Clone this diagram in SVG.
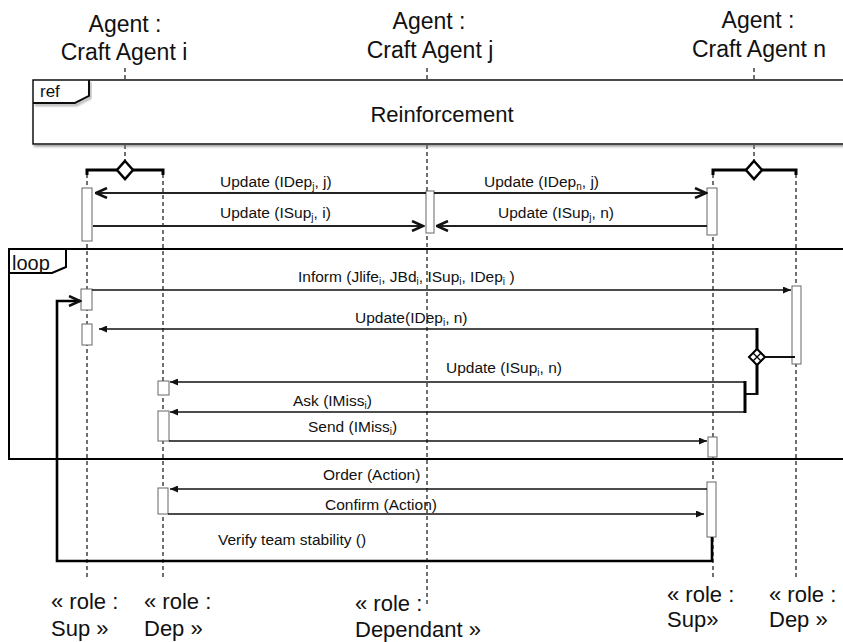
<svg xmlns="http://www.w3.org/2000/svg" width="843" height="642" viewBox="0 0 843 642">
<style>
text{font-family:"Liberation Sans",Arial,sans-serif;fill:#111}
.hd{font-size:23px;text-anchor:middle}
.role{font-size:22px}
.lbl{font-size:15.5px}
.sub{font-size:10px}
.ll{stroke:#111;stroke-width:1.2;stroke-dasharray:4 3;fill:none}
.act{fill:#fff;stroke:#666;stroke-width:1}
.msg{stroke:#111;stroke-width:1.6;fill:none}
.msgT{stroke:#222;stroke-width:2.2;fill:none}
.thick{stroke:#000;stroke-width:3;fill:none}
.frame{stroke:#000;stroke-width:2;fill:none}
</style>
<defs>
<marker id="open" viewBox="0 0 14 12" refX="12.5" refY="6" markerWidth="14" markerHeight="12" markerUnits="userSpaceOnUse" orient="auto">
<path d="M1.5,1 L12.5,6 L1.5,11" fill="none" stroke="#111" stroke-width="2.5"/>
</marker>
<marker id="fill" viewBox="0 0 8 7" refX="8" refY="3.5" markerWidth="8" markerHeight="7" markerUnits="userSpaceOnUse" orient="auto">
<path d="M0,0 L8,3.5 L0,7 Z" fill="#111"/>
</marker>
<filter id="sh" x="-5%" y="-20%" width="110%" height="150%">
<feDropShadow dx="1.5" dy="2" stdDeviation="1" flood-color="#777" flood-opacity="0.7"/>
</filter>
</defs>

<g id="lifelines">
<line class="ll" x1="125" y1="68" x2="125" y2="162"/>
<line class="ll" x1="427" y1="68" x2="427" y2="605"/>
<line class="ll" x1="754" y1="68" x2="754" y2="162"/>
<line class="ll" x1="87" y1="174" x2="87" y2="578"/>
<line class="ll" x1="163" y1="174" x2="163" y2="578"/>
<line class="ll" x1="713" y1="174" x2="713" y2="578"/>
<line class="ll" x1="796" y1="174" x2="796" y2="578"/>
</g>

<g id="agent-i">
<text class="hd" x="125" y="32">Agent :</text>
<text class="hd" x="124" y="60">Craft Agent i</text>
<path class="thick" d="M87,175 V170 H163 V175"/>
<path d="M125,161 L133,170 L125,179 L117,170 Z" fill="#fff" stroke="#000" stroke-width="2.5"/>
</g>
<g id="agent-j">
<text class="hd" x="429" y="29">Agent :</text>
<text class="hd" x="430" y="58">Craft Agent j</text>
</g>
<g id="agent-n">
<text class="hd" x="758" y="28">Agent :</text>
<text class="hd" x="759" y="57">Craft Agent n</text>
<path class="thick" d="M713,175 V170 H796 V175"/>
<path d="M754,161 L762,170 L754,179 L746,170 Z" fill="#fff" stroke="#000" stroke-width="2.5"/>
</g>

<g id="ref-frame">
<rect x="33" y="80" width="830" height="64" fill="#fff" stroke="#111" stroke-width="1.5" filter="url(#sh)"/>
<path d="M33,103 H75 L89,96 V80" fill="none" stroke="#111" stroke-width="2" filter="url(#sh)"/>
<text x="40" y="97" style="font-size:17px">ref</text>
<text x="442" y="122" style="font-size:22px;text-anchor:middle">Reinforcement</text>
</g>

<g id="loop-frame">
<path class="frame" d="M845,249 H9 V459 H845"/>
<path d="M9,273 H52 L66,267 V249" fill="none" stroke="#000" stroke-width="2"/>
<text x="12" y="270" style="font-size:20px">loop</text>
</g>

<g id="activations">
<rect class="act" x="82" y="188" width="10" height="53"/>
<rect class="act" x="426" y="191" width="8" height="42"/>
<rect class="act" x="707" y="188" width="10" height="47"/>
<rect class="act" x="81" y="289" width="11" height="21"/>
<rect class="act" x="82" y="324" width="10" height="21"/>
<rect class="act" x="792" y="286" width="9" height="78"/>
<rect class="act" x="158" y="381" width="11" height="14"/>
<rect class="act" x="158" y="411" width="11" height="30"/>
<rect class="act" x="708" y="437" width="9" height="20"/>
<rect class="act" x="158" y="488" width="10" height="26"/>
<rect class="act" x="707" y="482" width="9" height="55"/>
</g>

<g id="connectors">
<line class="msgT" x1="426" y1="193" x2="96" y2="193" marker-end="url(#open)"/>
<line class="msgT" x1="93" y1="226" x2="423" y2="226" marker-end="url(#open)"/>
<line class="msgT" x1="434" y1="193" x2="706" y2="193" marker-end="url(#open)"/>
<line class="msgT" x1="707" y1="226" x2="437" y2="226" marker-end="url(#open)"/>

<line class="msg" x1="92" y1="290" x2="791" y2="290" marker-end="url(#fill)"/>
<line class="msg" x1="758" y1="329" x2="99" y2="329" marker-end="url(#fill)"/>
<line class="msg" x1="746" y1="382" x2="170" y2="382" marker-end="url(#fill)"/>
<line class="msg" x1="746" y1="412" x2="170" y2="412" marker-end="url(#fill)"/>
<line class="msg" x1="169" y1="441" x2="707" y2="441" marker-end="url(#fill)"/>
<line class="msg" x1="707" y1="489" x2="170" y2="489" marker-end="url(#fill)"/>
<line class="msg" x1="168" y1="514" x2="704" y2="514" marker-end="url(#fill)"/>

<line class="thick" x1="757" y1="328" x2="757" y2="350"/>
<line class="thick" x1="757" y1="364" x2="757" y2="395"/>
<line class="msg" x1="758" y1="394" x2="745" y2="394" style="stroke-width:2"/>
<line class="thick" x1="745" y1="381" x2="745" y2="413"/>
<line class="msg" x1="764" y1="357" x2="795" y2="357" style="stroke-width:2"/>
<path d="M757,349 L765,357 L757,365 L749,357 Z" fill="#fff" stroke="#000" stroke-width="2"/>
<path d="M753,353 L761,361 M761,353 L753,361" stroke="#000" stroke-width="1.3"/>

<path d="M712,537 V561 H57 V301 H80" fill="none" stroke="#000" stroke-width="2.6" marker-end="url(#open)"/>
</g>

<g id="labels">
<text class="lbl" x="220" y="187">Update (IDep<tspan class="sub" dy="3">j</tspan><tspan dy="-3">, j)</tspan></text>
<text class="lbl" x="220" y="218">Update (ISup<tspan class="sub" dy="3">j</tspan><tspan dy="-3">, i)</tspan></text>
<text class="lbl" x="484" y="187">Update (IDep<tspan class="sub" dy="3">n</tspan><tspan dy="-3">, j)</tspan></text>
<text class="lbl" x="498" y="218">Update (ISup<tspan class="sub" dy="3">j</tspan><tspan dy="-3">, n)</tspan></text>
<text class="lbl" x="298" y="282">Inform (Jlife<tspan class="sub" dy="3">i</tspan><tspan dy="-3">, JBd</tspan><tspan class="sub" dy="3">i</tspan><tspan dy="-3">, ISup</tspan><tspan class="sub" dy="3">i</tspan><tspan dy="-3">, IDep</tspan><tspan class="sub" dy="3">i</tspan><tspan dy="-3"> )</tspan></text>
<text class="lbl" x="355" y="323">Update(IDep<tspan class="sub" dy="3">i</tspan><tspan dy="-3">, n)</tspan></text>
<text class="lbl" x="446" y="373">Update (ISup<tspan class="sub" dy="3">i</tspan><tspan dy="-3">, n)</tspan></text>
<text class="lbl" x="293" y="406">Ask (IMiss<tspan class="sub" dy="3">i</tspan><tspan dy="-3">)</tspan></text>
<text class="lbl" x="308" y="432">Send (IMiss<tspan class="sub" dy="3">i</tspan><tspan dy="-3">)</tspan></text>
<text class="lbl" x="323" y="480">Order (Action)</text>
<text class="lbl" x="325" y="510">Confirm (Action)</text>
<text class="lbl" x="218" y="545">Verify team stability ()</text>
</g>

<g id="role-sup-i"><text class="role" x="51" y="609">« role :</text><text class="role" x="51" y="636">Sup »</text></g>
<g id="role-dep-i"><text class="role" x="144" y="609">« role :</text><text class="role" x="144" y="636">Dep »</text></g>
<g id="role-dependant"><text class="role" x="355" y="611">« role :</text><text class="role" x="355" y="637">Dependant »</text></g>
<g id="role-sup-n"><text class="role" x="667" y="602">« role :</text><text class="role" x="667" y="627">Sup»</text></g>
<g id="role-dep-n"><text class="role" x="769" y="602">« role :</text><text class="role" x="769" y="627">Dep »</text></g>
</svg>
